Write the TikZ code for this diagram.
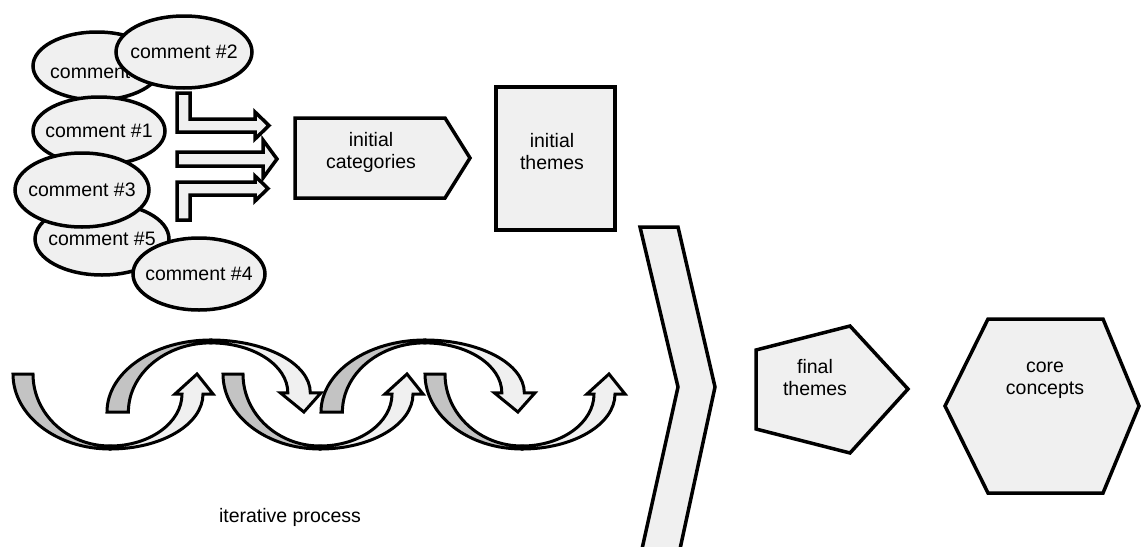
\documentclass[tikz,border=0pt]{standalone}
\usepackage{fontspec}
\setmainfont{Liberation Sans}
\usetikzlibrary{shapes.geometric}
\definecolor{lightfill}{HTML}{F0F0F0}
\definecolor{darkfill}{HTML}{C3C3C3}

\begin{document}
\begin{tikzpicture}[x=1pt, y=-1pt,
  every node/.style={font=\fontsize{19.5}{22}\selectfont, align=center},
  comment/.style={ellipse, draw, line width=3.5pt, fill=lightfill, inner xsep=-25pt, inner ysep=0pt},
  block/.style={draw, line width=3.5pt, fill=lightfill, line join=miter},
  back/.style={draw, line width=3pt, fill=darkfill},
  front/.style={draw, line width=3pt, fill=lightfill}]
  \useasboundingbox (0,0) rectangle (1142,546);

  \node[comment, minimum width=128pt, minimum height=68pt] (c0) at (97,66) {};
  \node[anchor=west, inner sep=0pt] (c0t) at (50,72) {comment};
  \node[comment, minimum width=136pt, minimum height=72pt] (c2) at (184,52) {comment \#2};
  \node[comment, minimum width=132pt, minimum height=68pt] (c1) at (99,131) {comment \#1};
  \node[comment, minimum width=134pt, minimum height=72pt] (c5) at (102,239) {comment \#5};
  \node[comment, minimum width=134pt, minimum height=74pt] (c3) at (82,190) {comment \#3};
  \node[comment, minimum width=132pt, minimum height=72pt] (c4) at (199,274) {comment \#4};

  \draw[block] (177,93) -- (190,93) -- (190,119) -- (255,119) -- (255,112) -- (269,125.5)
    -- (255,139) -- (255,132) -- (177,132) -- cycle;
  \draw[block] (177,152) -- (263,152) -- (263,140) -- (277,159) -- (263,178) -- (263,166)
    -- (177,166) -- cycle;
  \draw[block] (177,220) -- (190,220) -- (190,195) -- (255,195) -- (255,201) -- (268,188.5)
    -- (255,176) -- (255,182) -- (177,182) -- cycle;

  \draw[block] (295,118) -- (445,118) -- (470,158) -- (445,198) -- (295,198) -- cycle;
  \node (cat) at (371,152) {initial\\categories};
  \draw[block] (496,87) rectangle (615,230);
  \node (ith) at (552,152) {initial\\themes};

  \foreach \x/\y/\sx/\sy in {13/374/1/1, 107/412/1.07/-0.96, 223/374/1/1, 321/412/1.07/-0.96, 425/374/1/1}{
    \begin{scope}[shift={(\x,\y)}, xscale=\sx, yscale=\sy]
      \filldraw[back] (0,0) arc[start angle=180, end angle=90, x radius=97, y radius=75]
        -- (97,72) arc[start angle=90, end angle=180, x radius=77, y radius=72] -- cycle;
      \filldraw[front] (97,75) arc[start angle=90, end angle=0, x radius=93, y radius=55]
        -- (200,20) -- (184,0) -- (162,20) -- (169,20)
        arc[start angle=0, end angle=90, x radius=72, y radius=52] -- cycle;
    \end{scope}
  }
  \node (iter) at (290,517) {iterative process};

  \draw[block] (640,227) -- (678,227) -- (715,387) -- (680,549) -- (642,549) -- (678,387) -- cycle;
  \draw[block] (756,350) -- (850,326) -- (908,389) -- (850,453) -- (756,429) -- cycle;
  \node (fth) at (815,378) {final\\themes};
  \draw[block] (988,319) -- (1103,319) -- (1139,406) -- (1103,493) -- (988,493) -- (945,406) -- cycle;
  \node (core) at (1045,380) {core\\concepts};
\end{tikzpicture}
\end{document}
